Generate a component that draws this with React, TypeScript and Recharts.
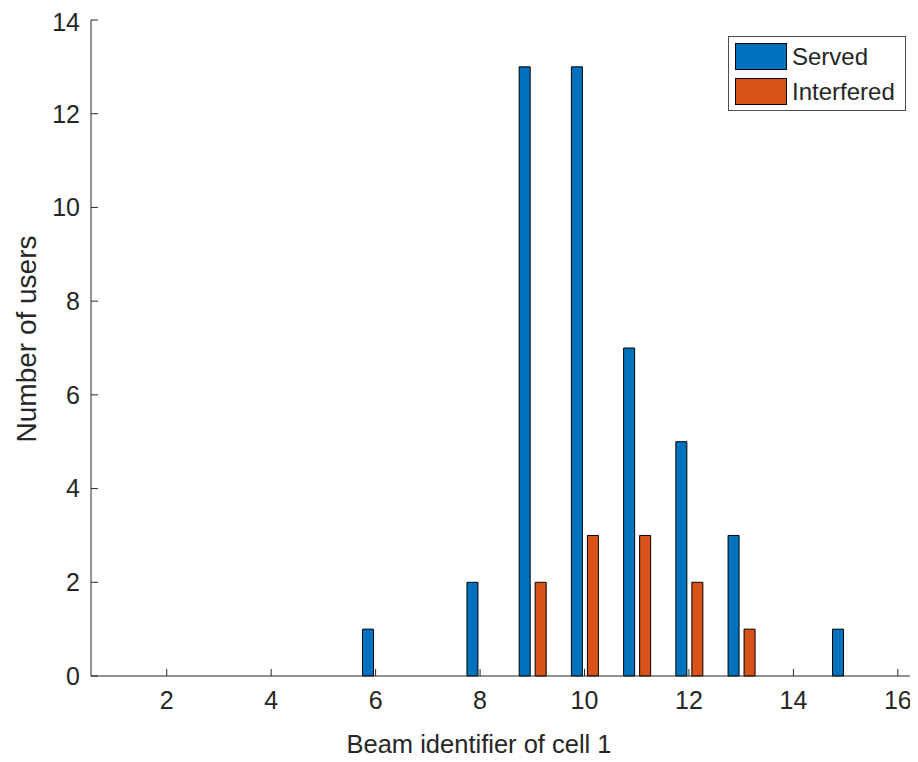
import React from 'react';
import { BarChart, Bar, XAxis, YAxis } from 'recharts';

const beams = [1, 2, 3, 4, 5, 6, 7, 8, 9, 10, 11, 12, 13, 14, 15, 16];
const served = [0, 0, 0, 0, 0, 1, 0, 2, 13, 13, 7, 5, 3, 0, 1, 0];
const interfered = [0, 0, 0, 0, 0, 0, 0, 0, 2, 3, 3, 2, 1, 0, 0, 0];
const xTicks = [2, 4, 6, 8, 10, 12, 14, 16];
const yTicks = [0, 2, 4, 6, 8, 10, 12, 14];
const seriesNames = ['Served', 'Interfered'];
const colors = ['#0072BD', '#D95319'];

const data = beams.map((b, i) => ({ beam: b, served: served[i], interfered: interfered[i] }));

const FONT = '"Liberation Sans", Arial, sans-serif';
const AX = '#262626';

const LegendBox = () => (
  <div
    style={{
      position: 'absolute',
      left: 720,
      top: 28,
      width: 178,
      height: 75,
      border: '1px solid #4d4d4d',
      background: '#fff',
      boxSizing: 'border-box',
      fontFamily: FONT,
      fontSize: 24,
      color: AX,
    }}
  >
    {seriesNames.map((n, i) => (
      <div key={n} style={{ position: 'absolute', left: 6, top: 6 + i * 35, display: 'flex', alignItems: 'center' }}>
        <div style={{ width: 50, height: 25, background: colors[i], border: '1px solid #000' }} />
        <span style={{ marginLeft: 5, lineHeight: '27px' }}>{n}</span>
      </div>
    ))}
  </div>
);

export default function App() {
  return (
    <div style={{ width: 910, height: 754, background: '#fff', position: 'relative' }}>
      <BarChart
        width={910}
        height={754}
        data={data}
        margin={{ top: 12, right: 5, left: 0, bottom: 0 }}
        barGap={5}
        barSize={11}
      >
        <XAxis
          dataKey="beam"
          type="number"
          domain={[0.55, 16.29]}
          ticks={xTicks}
          allowDataOverflow
          height={86}
          tickSize={-7}
          tickMargin={22}
          stroke={AX}
          tick={{ fill: AX, fontSize: 25, fontFamily: FONT }}
          label={{
            content: (props: any) => {
              const vb = props.viewBox || {};
              return (
                <text
                  x={vb.x + vb.width / 2 - 23}
                  y={vb.y + 77}
                  textAnchor="middle"
                  fill={AX}
                  fontSize={25.5}
                  fontFamily={FONT}
                >
                  Beam identifier of cell 1
                </text>
              );
            },
          }}
        />
        <YAxis
          type="number"
          domain={[0, 14]}
          ticks={yTicks}
          width={83}
          tickSize={-7}
          tickMargin={18}
          stroke={AX}
          tick={{ fill: AX, fontSize: 25, fontFamily: FONT }}
          label={{
            content: (props: any) => {
              const vb = props.viewBox || {};
              const cx = 18;
              const cy = vb.y + vb.height / 2 - 9;
              return (
                <text
                  x={cx}
                  y={cy}
                  transform={`rotate(-90 ${cx} ${cy})`}
                  textAnchor="middle"
                  dominantBaseline="central"
                  fill={AX}
                  fontSize={28}
                  fontFamily={FONT}
                >
                  Number of users
                </text>
              );
            },
          }}
        />
        <Bar dataKey="served" name="Served" fill={colors[0]} stroke="#000" strokeWidth={1} isAnimationActive={false} />
        <Bar dataKey="interfered" name="Interfered" fill={colors[1]} stroke="#000" strokeWidth={1} isAnimationActive={false} />
      </BarChart>
      <LegendBox />
    </div>
  );
}
